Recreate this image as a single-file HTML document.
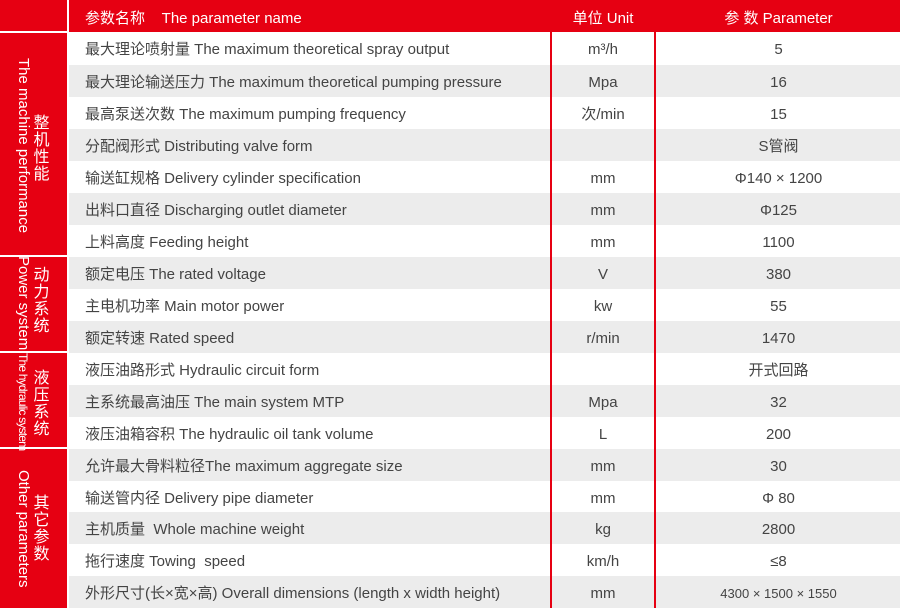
<!DOCTYPE html>
<html><head><meta charset="utf-8"><style>
*{margin:0;padding:0;box-sizing:border-box}
body{width:900px;height:608px;overflow:hidden;background:#fff;font-family:"Liberation Sans","Noto Sans CJK SC",sans-serif;color:#444;position:relative}
.hdr{position:absolute;top:0;left:0;width:900px;height:32px;background:#e60012}
.ht{position:absolute;top:0;height:32px;line-height:38px;color:#fff;font-size:15px}
.row{position:absolute;left:69px;width:831px;height:32px;font-size:15px;line-height:36px}
.g{background:#ececec}
.row span{position:absolute;top:0}
.n{left:16px}
.u{left:482px;width:104px;text-align:center}
.p{left:588px;width:243px;text-align:center}
.vl{position:absolute;top:0;width:2px;height:608px;background:#e60012}
.sec{position:absolute;left:0;width:67px;background:#e60012;color:#fff}
.en{position:absolute;white-space:nowrap;transform:rotate(90deg);transform-origin:0 0;font-size:15px;line-height:17px}
.zh{position:absolute;font-size:16px;line-height:17px;width:17px;text-align:center}
.sep{position:absolute;left:0;width:67px;height:2px;background:#fff}
</style></head><body>
<div class="hdr"></div>
<div style="position:absolute;left:67px;top:0;width:2px;height:608px;background:#fff"></div>
<div class="ht" style="left:85px">参数名称&nbsp;&nbsp;&nbsp;&nbsp;The parameter name</div>
<div class="ht" style="left:551px;width:104px;text-align:center">单位 Unit</div>
<div class="ht" style="left:657px;width:243px;text-align:center">参 数 Parameter</div>

<div class="row" style="top:32px"><span class="n">最大理论喷射量 The maximum theoretical spray output</span><span class="u">m³/h</span><span class="p">5</span></div>
<div class="row g" style="top:65px"><span class="n">最大理论输送压力 The maximum theoretical pumping pressure</span><span class="u">Mpa</span><span class="p">16</span></div>
<div class="row" style="top:97px"><span class="n">最高泵送次数 The maximum pumping frequency</span><span class="u">次/min</span><span class="p">15</span></div>
<div class="row g" style="top:129px"><span class="n">分配阀形式 Distributing valve form</span><span class="u"></span><span class="p">S管阀</span></div>
<div class="row" style="top:161px"><span class="n">输送缸规格 Delivery cylinder specification</span><span class="u">mm</span><span class="p">Φ140 × 1200</span></div>
<div class="row g" style="top:193px"><span class="n">出料口直径 Discharging outlet diameter</span><span class="u">mm</span><span class="p">Φ125</span></div>
<div class="row" style="top:225px"><span class="n">上料高度 Feeding height</span><span class="u">mm</span><span class="p">1100</span></div>
<div class="row g" style="top:257px"><span class="n">额定电压 The rated voltage</span><span class="u">V</span><span class="p">380</span></div>
<div class="row" style="top:289px"><span class="n">主电机功率 Main motor power</span><span class="u">kw</span><span class="p">55</span></div>
<div class="row g" style="top:321px"><span class="n">额定转速 Rated speed</span><span class="u">r/min</span><span class="p">1470</span></div>
<div class="row" style="top:353px"><span class="n">液压油路形式 Hydraulic circuit form</span><span class="u"></span><span class="p">开式回路</span></div>
<div class="row g" style="top:385px"><span class="n">主系统最高油压 The main system MTP</span><span class="u">Mpa</span><span class="p">32</span></div>
<div class="row" style="top:417px"><span class="n">液压油箱容积 The hydraulic oil tank volume</span><span class="u">L</span><span class="p">200</span></div>
<div class="row g" style="top:449px"><span class="n">允许最大骨料粒径The maximum aggregate size</span><span class="u">mm</span><span class="p">30</span></div>
<div class="row" style="top:481px"><span class="n">输送管内径 Delivery pipe diameter</span><span class="u">mm</span><span class="p">Φ 80</span></div>
<div class="row g" style="top:512px"><span class="n">主机质量&nbsp; Whole machine weight</span><span class="u">kg</span><span class="p">2800</span></div>
<div class="row" style="top:544px"><span class="n">拖行速度 Towing&nbsp; speed</span><span class="u">km/h</span><span class="p">≤8</span></div>
<div class="row g" style="top:576px"><span class="n">外形尺寸(长×宽×高) Overall dimensions (length x width height)</span><span class="u">mm</span><span class="p" style="font-size:13px">4300 × 1500 × 1550</span></div>

<div class="vl" style="left:550px"></div>
<div class="vl" style="left:654px"></div>

<div class="sec" style="top:0;height:608px"></div>
<div class="sep" style="top:31px"></div>
<div class="sep" style="top:255px"></div>
<div class="sep" style="top:351px"></div>
<div class="sep" style="top:447px"></div>

<div class="en" style="left:32px;top:58px;color:#fff">The machine performance</div>
<div class="zh" style="left:33px;top:115px;color:#fff">整机性能</div>
<div class="en" style="left:32px;top:256px;color:#fff">Power system</div>
<div class="zh" style="left:33px;top:267px;color:#fff">动力系统</div>
<div class="en" style="left:30px;top:353px;color:#fff;font-size:12px;line-height:14px;letter-spacing:-0.8px">The hydraulic system</div>
<div class="zh" style="left:33px;top:370px;color:#fff">液压系统</div>
<div class="en" style="left:32px;top:470px;color:#fff">Other parameters</div>
<div class="zh" style="left:33px;top:495px;color:#fff">其它参数</div>
</body></html>
